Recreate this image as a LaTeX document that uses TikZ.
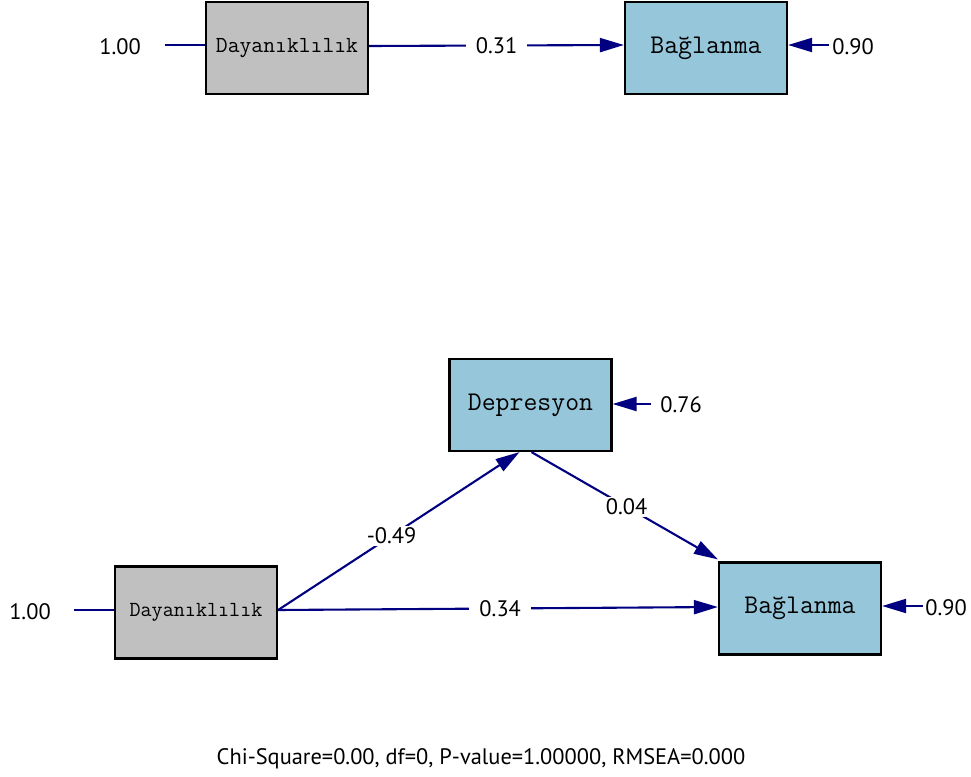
\documentclass[tikz,border=0pt]{standalone}
\usepackage{fontspec}
\setmainfont{PT Sans}
\newfontfamily\boxfont{Latin Modern Mono}
\usetikzlibrary{arrows.meta,calc}
\definecolor{navy}{RGB}{0,0,128}
\definecolor{boxblue}{RGB}{150,198,218}
\definecolor{boxgray}{RGB}{192,192,192}
\tikzset{
  varbox/.style={draw=black, line width=2.2pt, minimum width=162pt, minimum height=92pt, inner sep=0pt, font=\boxfont\fontsize{27}{27}\selectfont},
  graybox/.style={varbox, fill=boxgray, font=\boxfont\fontsize{23}{23}\selectfont},
  bluebox/.style={varbox, fill=boxblue},
  conn/.style={draw=navy, line width=2.1pt},
  arr/.style={conn, -{Triangle[length=24pt,width=14pt]}},
  lbl/.style={font=\fontsize{22.4}{22}\selectfont, inner sep=2pt},
  onl/.style={lbl, fill=white, inner xsep=10pt}
}
\begin{document}
\begin{tikzpicture}[x=1pt,y=-1pt]
\useasboundingbox (0,0) rectangle (971,776);
% top model
\node[graybox] (d1) at (287,48) {\raisebox{2pt}{Dayanıklılık}};
\node[bluebox] (b1) at (706,48) {Bağlanma};
\node[lbl] (v1) at (120,47) {1.00};
\coordinate (v1e) at (165,45);
\node[lbl] (e1) at (853,47) {0.90};
\coordinate (e1s) at (829,45);
\draw[conn] (v1e) -- (d1.west |- v1e);
\draw[arr] (d1.east |- 0,46) -- node[onl] {0.31} (b1.west |- 0,45);
\draw[arr] (e1s) -- (b1.east |- e1s);
% bottom model
\node[bluebox] (dep) at (530.5,405) {Depresyon};
\node[graybox, font=\boxfont\fontsize{21.5}{21}\selectfont] (d2) at (196,612.5) {\raisebox{1pt}{Dayanıklılık}};
\node[bluebox] (b2) at (800,608.5) {Bağlanma};
\node[lbl] (v2) at (30,612) {1.00};
\coordinate (v2e) at (74,610);
\draw[conn] (v2e) -- (d2.west |- v2e);
\node[lbl] (e2) at (681,405) {0.76};
\coordinate (e2s) at (651,404);
\draw[arr] (e2s) -- (dep.east |- e2s);
\node[lbl] (e3) at (946,608) {0.90};
\coordinate (e3s) at (923,606);
\draw[arr] (e3s) -- (b2.east |- e3s);
\coordinate (dstart) at (d2.east |- 0,610);
\draw[arr] (dstart) -- node[onl, pos=0.47, inner xsep=4pt] {-0.49} ($(dep.south)+(-11,0)$);
\draw[arr] ($(dep.south)+(1,0)$) -- node[onl, pos=0.51, inner xsep=4pt] {0.04} ($(b2.north west)+(0,-2)$);
\draw[arr] (dstart) -- node[onl, pos=0.505] {0.34} (b2.west |- 0,607);
% fit statistics
\node[lbl] (fit) at (481,759) {Chi-Square=0.00, df=0, P-value=1.00000, RMSEA=0.000};
\end{tikzpicture}
\end{document}
